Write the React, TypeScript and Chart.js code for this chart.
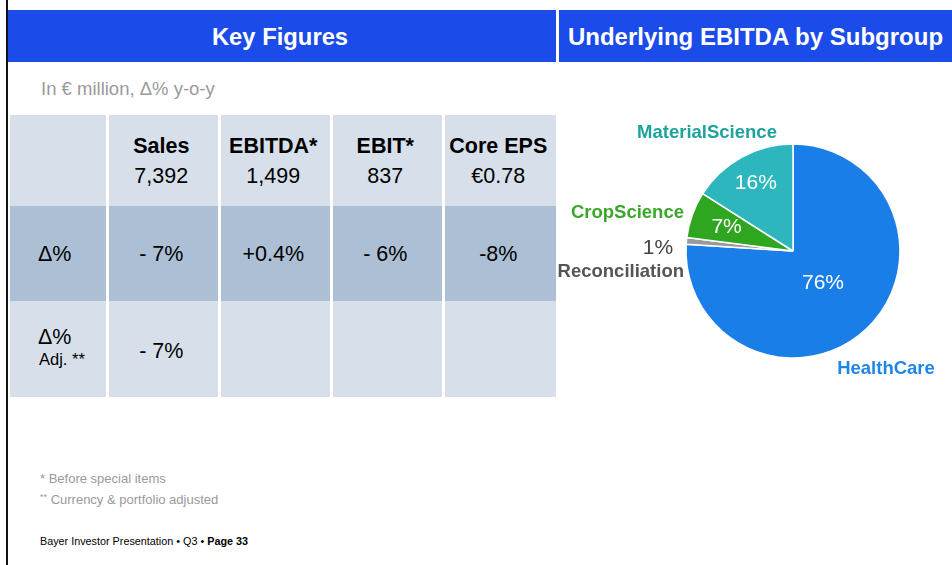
import React, { useEffect, useRef } from "react";
import { Chart, registerables } from "chart.js";

Chart.register(...registerables);

// ---- Data ----
const metricNames = ["Sales", "EBITDA*", "EBIT*", "Core EPS"];
const metricValues = ["7,392", "1,499", "837", "€0.78"];
const deltaYoY = ["- 7%", "+0.4%", "- 6%", "-8%"];
const deltaAdjusted = ["- 7%", "", "", ""];

const subgroups = ["HealthCare", "Reconciliation", "CropScience", "MaterialScience"];
const ebitdaShare = [76, 1, 7, 16];
const shareLabels = ["76%", "1%", "7%", "16%"];

// ---- Styles ----
const FONT = '"Liberation Sans", Arial, Helvetica, sans-serif';
const sliceColors = ["#1a7ee8", "#9a9a9a", "#2fa61f", "#2eb6bf"];
const nameColors = ["#1e86e8", "#555555", "#3aa72b", "#1ea39c"];
const pctColors = ["#ffffff", "#444444", "#ffffff", "#ffffff"];
// label placement relative to pie centre
const pctRadial = [0.41, 0, 0.66, 0.72];
const pctOffset: [number, number][] = [[0, 0], [-135, -3], [0, 0], [0, 0]];
const nameOffset: [number, number, CanvasTextAlign][] = [
  [93, 118, "center"],
  [-109, 21, "right"],
  [-109, -38, "right"],
  [-86, -118, "center"],
];

const colX: [number, number][] = [[10, 105.5], [109, 217.5], [220.5, 330], [333, 441.5], [444.5, 556]];
const rowY: [number, number][] = [[115, 206], [206, 301], [301, 397]];
const LIGHT = "#d7e0ea";
const DARK = "#acbfd4";

const labelPlugin = {
  id: "pieLabels",
  afterDatasetsDraw(chart: any) {
    const ctx = chart.ctx;
    const meta = chart.getDatasetMeta(0);
    ctx.save();
    ctx.textBaseline = "middle";
    meta.data.forEach((arc: any, i: number) => {
      const { x, y, startAngle, endAngle, outerRadius } = arc.getProps(
        ["x", "y", "startAngle", "endAngle", "outerRadius"],
        true
      );
      const mid = (startAngle + endAngle) / 2;
      let px = x + Math.cos(mid) * outerRadius * pctRadial[i];
      let py = y + Math.sin(mid) * outerRadius * pctRadial[i];
      if (pctRadial[i] === 0) {
        px = x + pctOffset[i][0];
        py = y + pctOffset[i][1];
      }
      ctx.font = `21px ${FONT}`;
      ctx.fillStyle = pctColors[i];
      ctx.textAlign = "center";
      ctx.fillText(shareLabels[i], px, py);

      const [dx, dy, align] = nameOffset[i];
      ctx.font = `bold 18.5px ${FONT}`;
      ctx.fillStyle = nameColors[i];
      ctx.textAlign = align;
      ctx.fillText(subgroups[i], x + dx, y + dy);
    });
    ctx.restore();
  },
};

function PieChart() {
  const ref = useRef<HTMLCanvasElement | null>(null);
  useEffect(() => {
    if (!ref.current) return;
    const chart = new Chart(ref.current, {
      type: "pie",
      data: {
        labels: subgroups,
        datasets: [
          {
            data: ebitdaShare,
            backgroundColor: sliceColors,
            borderColor: "#ffffff",
            borderWidth: 1.5,
            hoverOffset: 0,
            radius: 107,
          } as any,
        ],
      },
      options: {
        responsive: false,
        animation: false,
        devicePixelRatio: 1,
        events: [],
        layout: { padding: { left: 143, right: 49, top: 75, bottom: 45 } },
        plugins: { legend: { display: false }, tooltip: { enabled: false } },
      },
      plugins: [labelPlugin],
    });
    return () => chart.destroy();
  }, []);
  return (
    <canvas
      ref={ref}
      width={412}
      height={340}
      style={{ position: "absolute", left: 540, top: 66, width: 412, height: 340 }}
    />
  );
}

function Text(props: {
  x: number;
  y: number;
  w?: number;
  size: number;
  bold?: boolean;
  color?: string;
  align?: "left" | "center" | "right";
  children: React.ReactNode;
}) {
  const h = 30;
  const w = props.w ?? 400;
  return (
    <div
      style={{
        position: "absolute",
        left: props.x,
        top: props.y - h / 2,
        width: w,
        height: h,
        lineHeight: `${h}px`,
        fontSize: props.size,
        fontWeight: props.bold ? "bold" : "normal",
        color: props.color ?? "#000",
        textAlign: props.align ?? "left",
        whiteSpace: "nowrap",
      }}
    >
      {props.children}
    </div>
  );
}

export default function App() {
  const cells: React.ReactNode[] = [];
  rowY.forEach((r, ri) => {
    colX.forEach((c, ci) => {
      cells.push(
        <div
          key={`c${ri}-${ci}`}
          style={{
            position: "absolute",
            left: c[0],
            top: r[0],
            width: c[1] - c[0],
            height: r[1] - r[0],
            background: ri === 1 ? DARK : LIGHT,
          }}
        />
      );
    });
  });

  return (
    <div
      style={{
        position: "fixed",
        left: 0,
        top: 0,
        width: 952,
        height: 565,
        background: "#fff",
        fontFamily: FONT,
        overflow: "hidden",
      }}
    >
      <div style={{ position: "absolute", left: 6, top: 0, width: 2, height: 565, background: "#111" }} />
      <div style={{ position: "absolute", left: 8, top: 10, width: 548, height: 52, background: "#1b4be8" }} />
      <div style={{ position: "absolute", left: 559, top: 10, width: 393, height: 52, background: "#1b4be8" }} />
      <Text x={6} y={37} w={548} size={23.8} bold color="#fff" align="center">
        Key Figures
      </Text>
      <Text x={559} y={37} w={393} size={24} bold color="#fff" align="center">
        Underlying EBITDA by Subgroup
      </Text>
      <Text x={41} y={89} size={18.5} color="#9a9a9a">
        In € million, Δ% y-o-y
      </Text>

      {cells}

      {metricNames.map((m, i) => {
        const c = colX[i + 1];
        return (
          <React.Fragment key={m}>
            <Text x={c[0] - 2} y={146} w={c[1] - c[0]} size={21.5} bold align="center">
              {m}
            </Text>
            <Text x={c[0] - 2} y={176} w={c[1] - c[0]} size={21.5} align="center">
              {metricValues[i]}
            </Text>
            <Text x={c[0] - 2} y={254} w={c[1] - c[0]} size={21.5} align="center">
              {deltaYoY[i]}
            </Text>
            <Text x={c[0] - 2} y={351} w={c[1] - c[0]} size={21.5} align="center">
              {deltaAdjusted[i]}
            </Text>
          </React.Fragment>
        );
      })}
      <Text x={38} y={254} size={21.5}>
        Δ%
      </Text>
      <Text x={38} y={337} size={21.5}>
        Δ%
      </Text>
      <Text x={39} y={359} size={16.5}>
        Adj. **
      </Text>

      <PieChart />

      <Text x={40} y={479} size={13} color="#9a9a9a">
        * Before special items
      </Text>
      <Text x={40} y={497} size={13} color="#9a9a9a">
        <span style={{ fontSize: 9, verticalAlign: "4px" }}>**</span> Currency &amp; portfolio adjusted
      </Text>
      <Text x={40} y={541} size={10.8}>
        Bayer Investor Presentation • Q3 • <b>Page 33</b>
      </Text>
    </div>
  );
}
